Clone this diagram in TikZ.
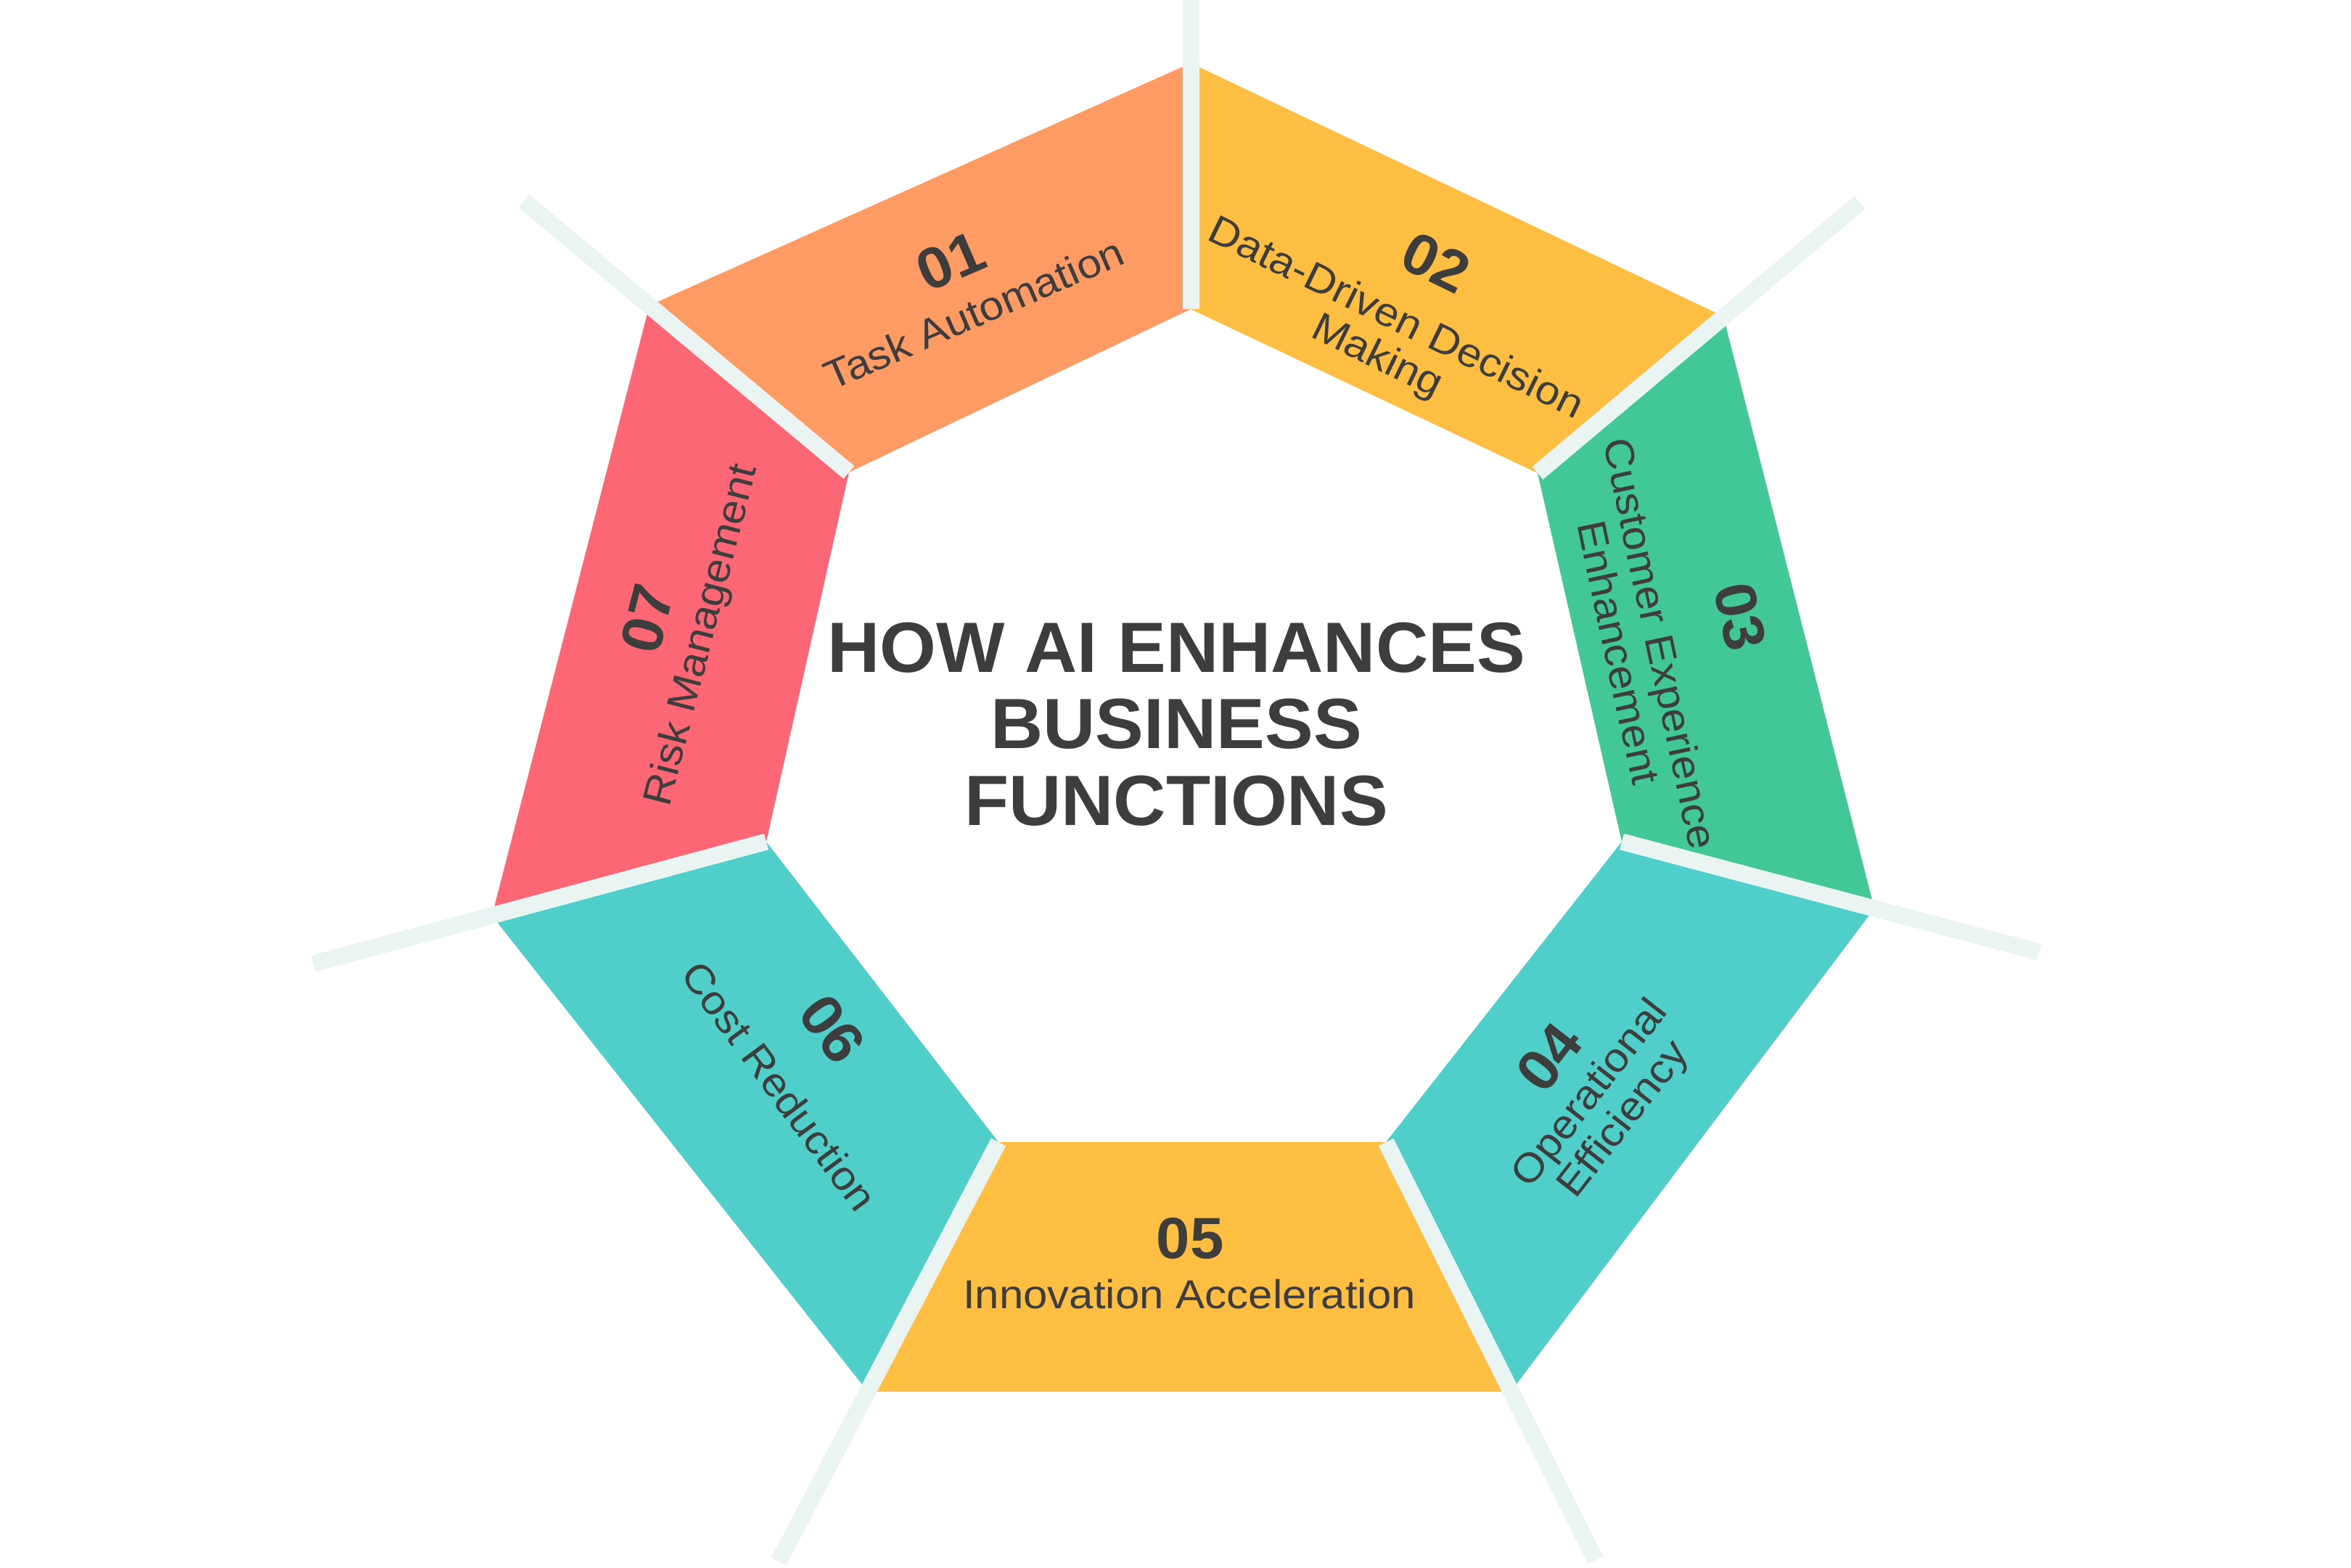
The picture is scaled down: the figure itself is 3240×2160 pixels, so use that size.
\documentclass[tikz,border=0pt]{standalone}
\usepackage{fontspec}
\setmainfont{Liberation Sans}
\newfontfamily\labelfont{Liberation Sans}[FakeStretch=1.08]
\newfontfamily\numfont{Liberation Sans}[FakeStretch=1.04]
\newfontfamily\titlefont{Liberation Sans}[FakeStretch=1.02]
\definecolor{cOrange}{HTML}{FE9A64}
\definecolor{cYellow}{HTML}{FEBE42}
\definecolor{cGreen}{HTML}{42C797}
\definecolor{cTeal}{HTML}{50CEC9}
\definecolor{cRed}{HTML}{FD6775}
\definecolor{cSep}{HTML}{EAF4F2}
\definecolor{ink}{HTML}{3D3D3D}
\tikzset{
  sepline/.style={draw=cSep, line width=0.23cm, line cap=butt},
  numtext/.style={font=\numfont\bfseries\fontsize{22.8}{24}\selectfont, text=ink, inner sep=0pt},
  lbltext/.style={font=\labelfont\fontsize{15.8}{16.6}\selectfont, text=ink, inner sep=0pt, align=center},
  titletext/.style={font=\titlefont\bfseries\fontsize{27.9}{30}\selectfont, text=ink, inner sep=0pt, align=center}
}
\begin{document}
\begin{tikzpicture}[x=0.01cm, y=-0.01cm]
\useasboundingbox (0,0) rectangle (3240,2160);
\fill[white] (0,0) rectangle (3240,2160);
% outer vertices
\coordinate (P0) at (1641,87);
\coordinate (P1) at (2375,436);
\coordinate (P2) at (2583,1252);
\coordinate (P3) at (2082,1918);
\coordinate (P4) at (1196,1918);
\coordinate (P5) at (678,1262);
\coordinate (P6) at (895,421);
% inner vertices
\coordinate (Q0) at (1641,426);
\coordinate (Q1) at (2119,652);
\coordinate (Q2) at (2235,1160);
\coordinate (Q3) at (1910,1574);
\coordinate (Q4) at (1376,1574);
\coordinate (Q5) at (1056,1160);
\coordinate (Q6) at (1170,651);
% separator ends
\coordinate (S0) at (1641,-5);
\coordinate (S1) at (2563,279);
\coordinate (S2) at (2810,1312);
\coordinate (S3) at (2199,2150);
\coordinate (S4) at (1073,2152);
\coordinate (S5) at (432,1328);
\coordinate (S6) at (722,277);
% segments
\fill[cOrange] (P6) -- (P0) -- (Q0) -- (Q6) -- cycle;
\fill[cYellow] (P0) -- (P1) -- (Q1) -- (Q0) -- cycle;
\fill[cGreen]  (P1) -- (P2) -- (Q2) -- (Q1) -- cycle;
\fill[cTeal]   (P2) -- (P3) -- (Q3) -- (Q2) -- cycle;
\fill[cYellow] (P3) -- (P4) -- (Q4) -- (Q3) -- cycle;
\fill[cTeal]   (P4) -- (P5) -- (Q5) -- (Q4) -- cycle;
\fill[cRed]    (P5) -- (P6) -- (Q6) -- (Q5) -- cycle;
% separators
\draw[sepline] (Q0) -- (S0);
\draw[sepline] (Q1) -- (S1);
\draw[sepline] (Q2) -- (S2);
\draw[sepline] (Q3) -- (S3);
\draw[sepline] (Q4) -- (S4);
\draw[sepline] (Q5) -- (S5);
\draw[sepline] (Q6) -- (S6);
% labels
\node[numtext, rotate=23.5] (n1) at (1310,360) {01};
\node[lbltext, rotate=23.5] (t1) at (1342,432) {Task Automation};
\node[numtext, rotate=-26] (n2) at (1979,362) {02};
\node[lbltext, rotate=-26] (t2) at (1910,467) {Data-Driven Decision\\Making};
\node[numtext, rotate=-78] (n3) at (2398,850) {03};
\node[lbltext, rotate=-78] (t3) at (2260,893) {Customer Experience\\Enhancement};
\node[numtext, rotate=52] (n4) at (2135,1457) {04};
\node[lbltext, rotate=52] (t4) at (2216,1526) {Operational\\Efficiency};
\node[numtext] (n5) at (1640,1707) {05};
\node[lbltext] (t5) at (1639,1784) {Innovation Acceleration};
\node[numtext, rotate=-53.5] (n6) at (1147,1418) {06};
\node[lbltext, rotate=-53.5] (t6) at (1074,1497) {Cost Reduction};
\node[numtext, rotate=75.6] (n7) at (892,853) {07};
\node[lbltext, rotate=75.6] (t7) at (969,876) {Risk Management};
\node[titletext] (title) at (1621,998) {HOW AI ENHANCES\\BUSINESS\\FUNCTIONS};
\end{tikzpicture}
\end{document}
